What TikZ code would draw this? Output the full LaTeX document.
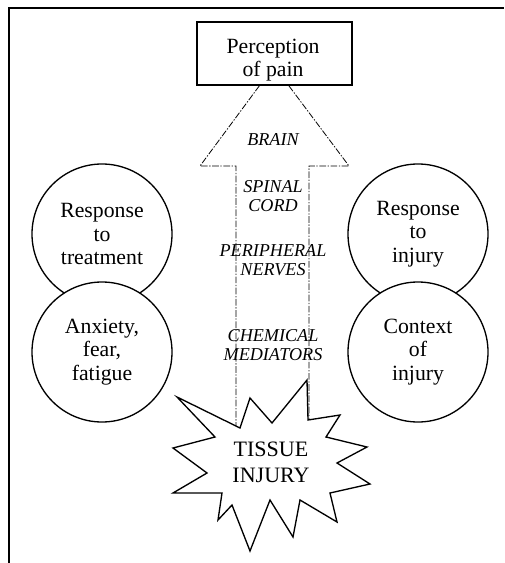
\documentclass[tikz,border=0pt]{standalone}
\usepackage{fontspec}
\setmainfont{Liberation Serif}
\begin{document}
\begin{tikzpicture}[x=0.75pt,y=-0.75pt,
  bigtext/.style={font=\fontsize{16.3}{17.5}\selectfont,align=center},
  levtext/.style={font=\fontsize{13.6}{14.5}\selectfont\itshape,align=center},
  bubble/.style={draw,circle,line width=1pt,minimum size=140*0.75pt,inner sep=0pt,bigtext},
  nerve/.style={dash pattern=on 5pt off 1.2pt on 1pt off 1.2pt,line width=0.6pt}]
\useasboundingbox (0,0) rectangle (504,563);
% frame (only top and left edge show)
\draw[line width=1.1pt] (9,563) -- (9,8) -- (504,8);
% the big arrow
\draw[nerve] (236,440) -- (236,166) -- (200,166) -- (274,66) -- (349,166) -- (309,166) -- (309,425);
\node[draw,fill=white,line width=1pt,minimum width=155*0.75pt,minimum height=63*0.75pt] (percept) at (274.5,53.5) {};
\node[bigtext] (perceptext) at (273,60) {Perception\\of pain};
\node[levtext] (brain) at (273,140) {BRAIN};
\node[levtext] (cord) at (273,196) {SPINAL\\CORD};
\node[levtext] (nerves) at (273,260) {PERIPHERAL\\NERVES};
\node[levtext] (mediators) at (273,345) {CHEMICAL\\MEDIATORS};
% circles
\node[bubble] (treat) at (102,234) {Response\\to\\treatment};
\node[bubble,fill=white] (anxiety) at (102,352) {Anxiety,\\fear,\\fatigue};
\node[bubble] (reply) at (418,234) {Response\\to\\injury};
\node[bubble,fill=white] (context) at (418,352) {Context\\of\\injury};
% tissue injury star
\draw[line width=1pt,fill=white] (177,397) -- (240,428) -- (250,398) -- (272,423) -- (307,380) -- (308,420)
  -- (340,415) -- (326,437) -- (367,447) -- (337,463) -- (370,484) -- (330,493) -- (337,522) -- (300,500)
  -- (293,537) -- (270,500) -- (250,551) -- (232,505) -- (218,520) -- (222,493) -- (173,493) -- (207,473)
  -- (173,448) -- (215,437) -- cycle;
\node[font=\fontsize{16.5}{19.5}\selectfont,align=center] (tissue) at (271,462) {TISSUE\\INJURY};
\end{tikzpicture}
\end{document}
